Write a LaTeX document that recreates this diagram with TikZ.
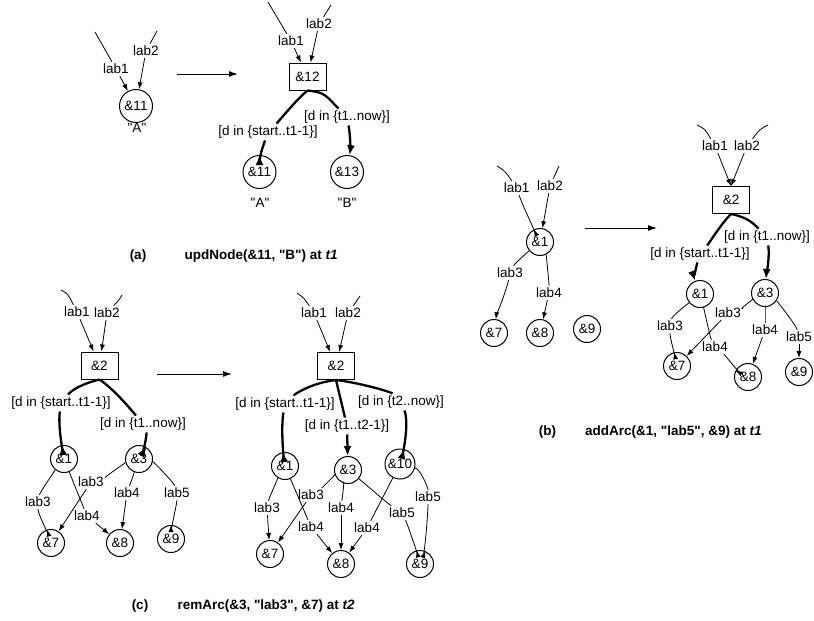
\documentclass[tikz,border=0pt]{standalone}
\usepackage{fontspec}
\setmainfont{Liberation Sans}
\newfontfamily\plainsans{Liberation Sans}
\usetikzlibrary{arrows.meta}
\begin{document}
\begin{tikzpicture}[x=1pt,y=-1pt,
  every node/.style={font=\plainsans\fontsize{13.5}{16}\selectfont},
  cnode/.style={circle,draw,line width=1pt,inner sep=0pt,minimum size=27pt},
  bnode/.style={rectangle,draw,line width=1pt,inner sep=0pt,minimum width=37pt,minimum height=27pt},
  lbl/.style={inner sep=2pt},
  thinl/.style={line width=0.8pt},
  thina/.style={line width=0.8pt,-{Latex[length=7pt,width=5pt]}},
  thickl/.style={line width=2.3pt},
  thicka/.style={line width=2.3pt,-{Latex[length=10pt,width=8pt]}},
  mainarrow/.style={line width=1pt,-{Latex[length=9pt,width=6pt]}},
  captxt/.style={font=\plainsans\fontsize{13.5}{16}\selectfont\bfseries},
]
\useasboundingbox (0,0) rectangle (814,621);

% ================= Panel (a) =================
\node[cnode,minimum size=33pt] (a11) at (136,106) {\&11};
\node (aA) at (137,128) {"A"};
\coordinate (aS1) at (95,32);
\coordinate (aS2) at (157,31);
\node[lbl] (aT1) at (116,69) {lab1};
\node[lbl] (aT2) at (146,51) {lab2};
\draw[thinl] (aS1) -- (aT1);
\draw[thina] (aT1) -- (a11);
\draw[thinl] (aS2) -- (aT2);
\draw[thina] (aT2) -- (a11);

\coordinate (aM1) at (177,74);
\coordinate (aM2) at (238,74);
\draw[mainarrow] (aM1) -- (aM2);

\node[bnode] (a12) at (307.5,76.5) {\&12};
\coordinate (aS3) at (268,2);
\coordinate (aS4) at (331,5);
\node[lbl] (aT3) at (291,41) {lab1};
\node[lbl] (aT4) at (319,24) {lab2};
\draw[thinl] (aS3) -- (aT3);
\draw[thina] (aT3) -- (a12);
\draw[thinl] (aS4) -- (aT4);
\draw[thina] (aT4) -- (a12);

\node[lbl] (aD1) at (268,132) {[d in \{start..t1-1\}]};
\node[lbl] (aD2) at (347,117) {[d in \{t1..now\}]};
\node[cnode,minimum size=33pt] (a11b) at (259.5,172) {\&11};
\node[cnode,minimum size=33pt] (a13) at (347,172) {\&13};
\node (aA2) at (260,203) {"A"};
\node (aB2) at (347,203) {"B"};
\draw[thickl] (a12.south) .. controls +(-12,10) and +(12,-12) .. (aD1);
\draw[thickl] (a12.south) .. controls +(18,2) and +(-22,-22) .. (aD2);
\draw[thicka] (aD1) .. controls +(-7,20) and +(0,-15) .. (a11b);
\draw[thicka] (aD2) .. controls +(4,22) and +(3,-20) .. (a13);

\node[captxt] (aCap) at (138,256) {(a)};
\node[captxt,anchor=west] (aCapT) at (181,256) {updNode(\&11, "B") at \textit{t1}};

% ================= Panel (b) =================
\node[cnode] (b1) at (540,242) {\&1};
\coordinate (bS1) at (497,166);
\coordinate (bS2) at (559,166);
\node[lbl] (bT1) at (516.7,188) {lab1};
\node[lbl] (bT2) at (550,186) {lab2};
\draw[thinl] (bS1) .. controls +(8,5) .. (bT1);
\draw[thina] (bT1) .. controls +(5,15) and +(-5,-10) .. (b1);
\draw[thinl] (bS2) -- (bT2);
\draw[thina] (bT2) -- (b1);
\node[cnode] (b7) at (494,333) {\&7};
\node[cnode] (b8) at (540,333) {\&8};
\node[cnode] (b9) at (587,329) {\&9};
\node[lbl] (bT3) at (510,273) {lab3};
\node[lbl] (bT4) at (549,293) {lab4};
\draw[thinl] (b1) .. controls +(-10,8) and +(5,-10) .. (bT3);
\draw[thina] (bT3) .. controls +(-3,15) and +(2,-15) .. (b7);
\draw[thinl] (b1) .. controls +(6,12) and +(0,-12) .. (bT4);
\draw[thina] (bT4) -- (b8);

\coordinate (bM1) at (585,228);
\coordinate (bM2) at (657,228);
\draw[mainarrow] (bM1) -- (bM2);

\node[bnode] (b2x) at (731,200) {\&2};
\coordinate (bS3) at (697,125);
\coordinate (bS4) at (768,125);
\node[lbl] (bT5) at (715,146) {lab1};
\node[lbl] (bT6) at (747,146) {lab2};
\draw[thinl] (bS3) .. controls +(8,4) .. (bT5);
\draw[thina] (bT5) -- (b2x.north);
\draw[thinl] (bS4) .. controls +(-8,4) .. (bT6);
\draw[thina] (bT6) -- (b2x.north);

\node[lbl] (bD1) at (700,254) {[d in \{start..t1-1\}]};
\node[lbl] (bD2) at (767,237) {[d in \{t1..now\}]};
\draw[thickl] (b2x.south) .. controls +(-10,10) and +(10,-12) .. (bD1);
\draw[thickl] (b2x.south) .. controls +(15,3) and +(-15,-15) .. (bD2);
\node[cnode] (b1x) at (700,294) {\&1};
\node[cnode] (b3x) at (765,293) {\&3};
\node[cnode] (b7x) at (677,366) {\&7};
\node[cnode] (b8x) at (748,377) {\&8};
\node[cnode] (b9x) at (799,372) {\&9};
\draw[thicka] (bD1) .. controls +(-6,20) and +(-5,-14) .. (b1x);
\draw[thicka] (bD2) .. controls +(3,20) and +(1,-14) .. (b3x);

\node[lbl] (bT7) at (670,326) {lab3};
\node[lbl] (bT8) at (715,347) {lab4};
\node[lbl] (bT9) at (728,313) {lab3};
\node[lbl] (bT10) at (765,330) {lab4};
\node[lbl] (bT11) at (799,337) {lab5};
\draw[thinl] (b1x) .. controls +(-10,8) and +(2,-10) .. (bT7);
\draw[thina] (bT7) .. controls +(0,12) and +(-2,-10) .. (b7x);
\draw[thinl] (b1x) .. controls +(4,15) and +(-5,-10) .. (bT8);
\draw[thina] (bT8) .. controls +(10,8) and +(-10,-5) .. (b8x);
\draw[thinl] (b3x) .. controls +(-10,5) and +(10,-3) .. (bT9);
\draw[thina] (bT9) -- (b7x);
\draw[thinl] (b3x) .. controls +(0,8) and +(0,-8) .. (bT10);
\draw[thina] (bT10) -- (b8x);
\draw[thinl] (b3x) .. controls +(12,8) and +(-3,-12) .. (bT11);
\draw[thina] (bT11) -- (b9x);

\node[captxt] (bCap) at (547.5,432) {(b)};
\node[captxt,anchor=west] (bCapT) at (581.7,432) {addArc(\&1, "lab5", \&9) at \textit{t1}};

% ================= Panel (c) left =================
\node[bnode] (c2) at (99.5,365.5) {\&2};
\coordinate (cS1) at (61,290);
\coordinate (cS2) at (122,295);
\node[lbl] (cT1) at (77,312) {lab1};
\node[lbl] (cT2) at (107,313) {lab2};
\draw[thinl] (cS1) .. controls +(7,4) .. (cT1);
\draw[thina] (cT1) -- (c2);
\draw[thinl] (cS2) .. controls +(-3,5) .. (cT2);
\draw[thina] (cT2) -- (c2);

\node[lbl] (cD1) at (61,403) {[d in \{start..t1-1\}]};
\node[lbl] (cD2) at (143,424) {[d in \{t1..now\}]};
\draw[thickl] (c2.south) .. controls +(-20,5) and +(10,-12) .. (cD1);
\draw[thickl] (c2.south) .. controls +(15,10) and +(-10,-12) .. (cD2);
\node[cnode] (c1) at (64,459) {\&1};
\node[cnode] (c3) at (139,459) {\&3};
\node[cnode] (c7) at (51,543) {\&7};
\node[cnode] (c8) at (120,543) {\&8};
\node[cnode] (c9) at (171,539) {\&9};
\draw[thicka] (cD1) .. controls +(-3,22) and +(-2,-12) .. (c1);
\draw[thicka] (cD2) .. controls +(4,10) and +(5,-8) .. (c3);

\node[lbl] (cT3) at (38,502) {lab3};
\node[lbl] (cT4) at (87,516) {lab4};
\node[lbl] (cT5) at (91,482) {lab3};
\node[lbl] (cT6) at (127,493) {lab4};
\node[lbl] (cT7) at (177,493) {lab5};
\draw[thinl] (c1) .. controls +(-8,10) and +(2,-10) .. (cT3);
\draw[thina] (cT3) .. controls +(0,12) and +(-3,-10) .. (c7);
\draw[thinl] (c1) -- (cT4);
\draw[thina] (cT4) -- (c8);
\draw[thinl] (c3) .. controls +(-12,3) and +(10,-3) .. (cT5);
\draw[thina] (cT5) -- (c7);
\draw[thinl] (c3) -- (cT6);
\draw[thina] (cT6) -- (c8);
\draw[thinl] (c3) .. controls +(15,3) and +(-3,-10) .. (cT7);
\draw[thina] (cT7) .. controls +(0,10) and +(0,-10) .. (c9);

\coordinate (cM1) at (157,374);
\coordinate (cM2) at (232,374);
\draw[mainarrow] (cM1) -- (cM2);

% ================= Panel (c) right =================
\node[bnode] (d2) at (336,366) {\&2};
\coordinate (dS1) at (297,293);
\coordinate (dS2) at (360,296);
\node[lbl] (dT1) at (314,313) {lab1};
\node[lbl] (dT2) at (348,313) {lab2};
\draw[thinl] (dS1) .. controls +(7,5) .. (dT1);
\draw[thina] (dT1) -- (d2);
\draw[thinl] (dS2) .. controls +(-3,5) .. (dT2);
\draw[thina] (dT2) -- (d2);

\node[lbl] (dD1) at (285,404) {[d in \{start..t1-1\}]};
\node[lbl] (dD2) at (347,426) {[d in \{t1..t2-1\}]};
\node[lbl] (dD3) at (401,402) {[d in \{t2..now\}]};
\draw[thickl] (d2.south) .. controls +(-25,3) and +(10,-10) .. (dD1);
\draw[thickl] (d2.south) -- (dD2);
\draw[thickl] (d2.south) .. controls +(25,3) and +(-10,-10) .. (dD3);
\node[cnode] (d1) at (285,466) {\&1};
\node[cnode] (d3) at (348,470) {\&3};
\node[cnode,minimum size=30pt] (d10) at (400,464) {\&10};
\node[cnode] (d7) at (270,554) {\&7};
\node[cnode] (d8) at (341,564) {\&8};
\node[cnode] (d9) at (420,564) {\&9};
\draw[thicka] (dD1) .. controls +(-4,22) and +(-2,-12) .. (d1);
\draw[thicka] (dD2) -- (d3);
\draw[thicka] (dD3) .. controls +(8,20) and +(4,-14) .. (d10);

\node[lbl] (dT3) at (267,508) {lab3};
\node[lbl] (dT4) at (311,527) {lab4};
\node[lbl] (dT5) at (311,495) {lab3};
\node[lbl] (dT6) at (341,508) {lab4};
\node[lbl] (dT7) at (402,513) {lab5};
\node[lbl] (dT8) at (367,528) {lab4};
\node[lbl] (dT9) at (428,497) {lab5};
\draw[thinl] (d1) .. controls +(-6,10) and +(2,-10) .. (dT3);
\draw[thina] (dT3) -- (d7);
\draw[thinl] (d1) -- (dT4);
\draw[thina] (dT4) -- (d8);
\draw[thinl] (d3) .. controls +(-10,3) and +(8,-5) .. (dT5);
\draw[thina] (dT5) -- (d7);
\draw[thinl] (d3) .. controls +(-3,8) and +(1,-8) .. (dT6);
\draw[thina] (dT6) -- (d8);
\draw[thinl] (d3) .. controls +(15,12) and +(-15,-10) .. (dT7);
\draw[thina] (dT7) .. controls +(5,10) and +(-3,-12) .. (d9);
\draw[thinl] (d10) -- (dT8);
\draw[thina] (dT8) -- (d8);
\draw[thinl] (d10) .. controls +(20,5) and +(0,-10) .. (dT9);
\draw[thina] (dT9) .. controls +(0,15) and +(5,-12) .. (d9);

\node[captxt] (cCap) at (140,606) {(c)};
\node[captxt,anchor=west] (cCapT) at (174,606) {remArc(\&3, "lab3", \&7) at \textit{t2}};
\end{tikzpicture}
\end{document}
